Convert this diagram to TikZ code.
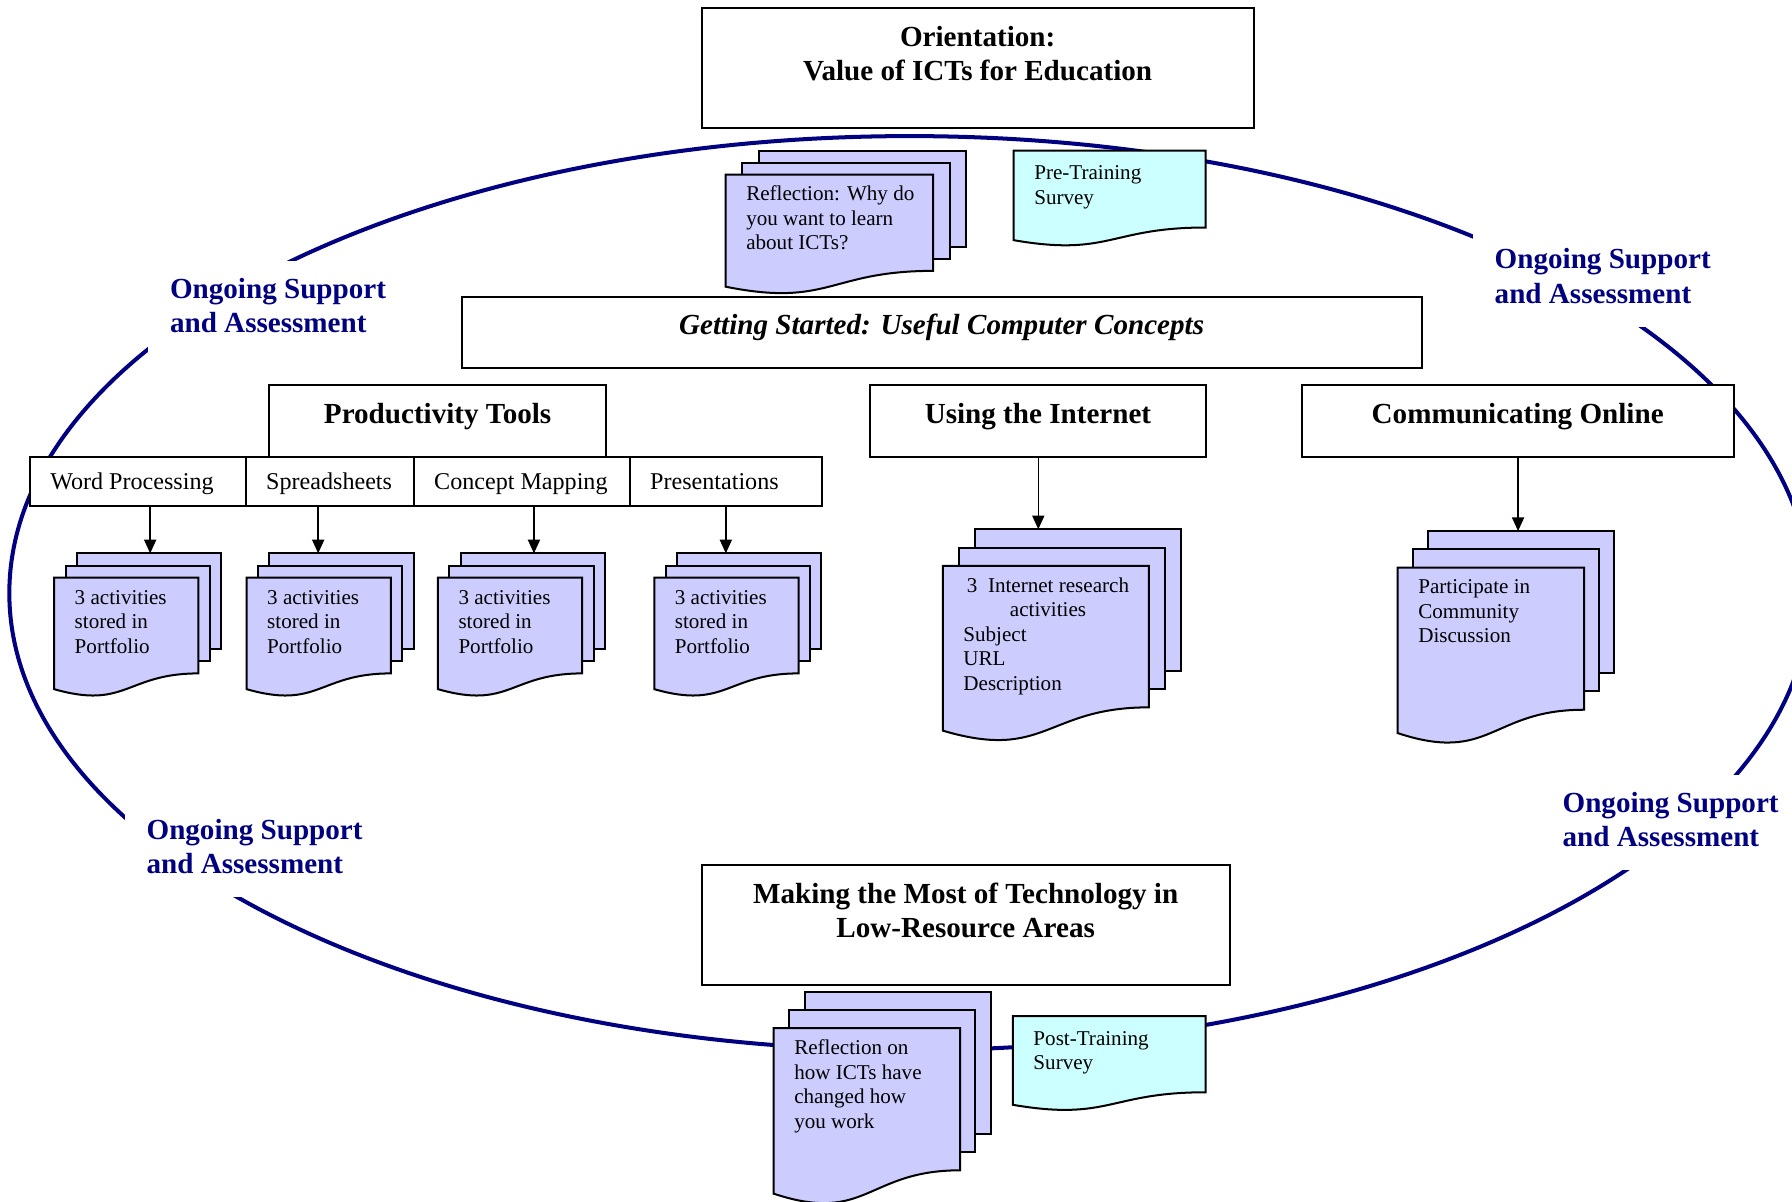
\documentclass[tikz,border=0pt]{standalone}
\usepackage{fontspec}
\setmainfont{Liberation Serif}
\usetikzlibrary{arrows.meta}
\definecolor{ringblue}{RGB}{0,0,128}
\definecolor{pagefill}{RGB}{204,204,255}
\definecolor{surveyfill}{RGB}{204,255,255}
\newcommand{\leftlines}[1]{\begin{tabular}[t]{@{}l@{}}#1\end{tabular}}
\newcommand{\midlines}[1]{\begin{tabular}[t]{@{}c@{}}#1\end{tabular}}
\newcommand{\docpage}[5]{%
  \filldraw[#1] (#2,#3) -- ({#2+#4},#3) -- ({#2+#4},{#3+0.802*#5})
    .. controls ({#2+0.5*#4},{#3+0.802*#5}) and ({#2+0.5*#4},{#3+1.1075*#5})
    .. (#2,{#3+0.934*#5}) -- cycle;}
\newcommand{\docstack}[8]{%
  \foreach \k in {2,1}
    \filldraw[page] ({#2+\k*#6},{#3-\k*#7}) rectangle ++(#4,{0.802*#5});
  \docpage{page}{#2}{#3}{#4}{#5}
  \node[doctext] (#1) at ({#2+18},{#3+23}) {\leftlines{#8}};}

\begin{document}
\begin{tikzpicture}[x=0.02cm, y=-0.02cm,
      every node/.style={inner sep=0pt, outer sep=0pt},
      ring/.style={draw=ringblue, line width=2pt},
      box/.style={draw, fill=white, line width=1pt, anchor=north west, text height=0.67cm,
        font=\fontsize{14.5}{17}\selectfont\bfseries},
      subbox/.style={draw, fill=white, line width=1pt, anchor=north west, inner xsep=0.36cm,
        text height=0.56cm, text depth=0.286cm, font=\fontsize{12}{14}\selectfont},
      page/.style={fill=pagefill, draw, line width=1pt},
      survey/.style={fill=surveyfill, draw, line width=1pt},
      doctext/.style={anchor=base west, font=\fontsize{10.5}{12.2}\selectfont},
      ongoing/.style={anchor=north west, fill=white, inner xsep=10.8pt, inner ysep=6.6pt,
        text=ringblue, font=\fontsize{14.5}{17}\selectfont\bfseries},
      arr/.style={-{Triangle[length=6.8pt,width=6pt]}, line width=0.7pt}]
    \path[use as bounding box, clip] (0,0) rectangle (1568,1051);
    \draw[ring] (796,519) ellipse [x radius=15.76cm, y radius=8cm];

    \node[box, minimum width=9.66cm, text depth=1.43cm] (orient) at (614,7)
      {\midlines{Orientation:\\Value of ICTs for Education}};
    \node[box, minimum width=16.8cm, text depth=0.57cm,
      font=\fontsize{14.5}{17}\selectfont\bfseries\itshape] (start) at (404,259.6)
      {Getting Started: Useful Computer Concepts};
    \node[box, minimum width=5.89cm, text depth=0.59cm] (prod) at (235.7,336.9) {Productivity Tools};
    \node[box, minimum width=5.89cm, text depth=0.59cm] (inet) at (761,337) {Using the Internet};
    \node[box, minimum width=7.56cm, text depth=0.59cm] (comm) at (1139,337) {Communicating Online};
    \node[box, minimum width=9.24cm, text depth=1.43cm] (making) at (614,757)
      {\midlines{Making the Most of Technology in\\Low-Resource Areas}};

    \node[subbox] (wp) at (26,400.2) {\makebox[3.06cm][l]{Word Processing}};
    \node[subbox] (ss) at (wp.north east) {\makebox[2.22cm][l]{Spreadsheets}};
    \node[subbox] (cm) at (ss.north east) {\makebox[3.06cm][l]{Concept Mapping}};
    \node[subbox] (pres) at (cm.north east) {\makebox[2.65cm][l]{Presentations}};

    \docstack{topref}{635}{152.8}{181.4}{105}{14.5}{10.5}{Reflection: Why do\\you want to learn\\about ICTs?}
    \docpage{survey}{887}{131.7}{168}{84}
    \node[doctext] (presurvey) at (905,157.2) {\leftlines{Pre-Training\\Survey}};

    \docstack{wpdoc}{47.4}{505.5}{126.2}{104.4}{10}{10.6}{3 activities\\stored in\\Portfolio}
    \docstack{ssdoc}{215.8}{505.5}{126.2}{104.4}{10}{10.6}{3 activities\\stored in\\Portfolio}
    \docstack{cmdoc}{383.2}{505.5}{126.2}{104.4}{10}{10.6}{3 activities\\stored in\\Portfolio}
    \docstack{presdoc}{572.5}{505.5}{126.2}{104.4}{10}{10.6}{3 activities\\stored in\\Portfolio}
    \docstack{inetdoc}{825}{495.1}{180.2}{154.4}{14}{16}{\makebox[2.96cm]{3~~Internet research}\\
      \makebox[2.96cm]{activities}\\Subject\\URL\\Description}
    \docstack{commdoc}{1223}{496.7}{163}{155}{13.3}{16}{Participate in\\Community\\Discussion}

    \docstack{botref}{677}{899.7}{163}{155}{13.5}{15.8}{Reflection on\\how ICTs have\\changed how\\you work}
    \docpage{survey}{886.3}{889}{168.7}{83.2}
    \node[doctext] (postsurvey) at (904.3,914.5) {\leftlines{Post-Training\\Survey}};

    \coordinate (wpin) at (131.4,484.2);
    \coordinate (ssin) at (278.4,484.2);
    \coordinate (cmin) at (467.2,484.2);
    \coordinate (presin) at (635.1,484.2);
    \coordinate (inetin) at (908.5,463.1);
    \coordinate (commin) at (1328.3,464.7);
    \draw[arr] (wp.south -| wpin) -- (wpin);
    \draw[arr] (ss.south -| ssin) -- (ssin);
    \draw[arr] (cm.south -| cmin) -- (cmin);
    \draw[arr] (pres.south -| presin) -- (presin);
    \draw[arr] (inet.south -| inetin) -- (inetin);
    \draw[arr] (comm.south -| commin) -- (commin);

    \node[ongoing] (supporttl) at (129.8,228.7) {\leftlines{Ongoing Support\\and Assessment}};
    \node[ongoing] (supporttr) at (1288.9,202.8) {\leftlines{Ongoing Support\\and Assessment}};
    \node[ongoing] (supportbl) at (109.3,702) {\leftlines{Ongoing Support\\and Assessment}};
    \node[ongoing] (supportbr) at (1348.3,678.2) {\leftlines{Ongoing Support\\and Assessment}};
  \end{tikzpicture}
\end{document}
